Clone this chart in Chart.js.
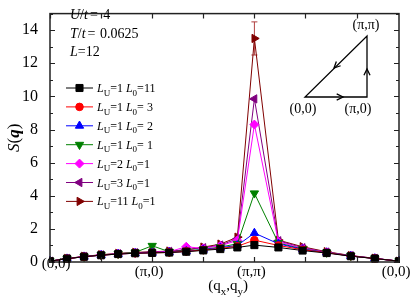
<!DOCTYPE html>
<html>
<head>
<meta charset="utf-8">
<script src="https://cdn.jsdelivr.net/npm/chart.js@4.4.0/dist/chart.umd.min.js"></script>
<style>
  html, body { margin: 0; padding: 0; background: #fff; }
  #wrap { width: 411px; height: 300px; }
</style>
</head>
<body>
<div id="wrap"><canvas id="chart" width="411" height="300"></canvas></div>
<script>
// DATA

// path (0,0) -> (pi,0) -> (pi,pi) -> (0,0), distance along path
const xPos = [0, 1, 2, 3, 4, 5, 6, 7, 8, 9, 10, 11, 12, 13.41, 14.83, 16.24, 17.66, 19.07, 20.49];
const xTickVals = [0, 3, 6, 9, 12, 15, 18];
const xLabelVals = [0, 6, 12, 20.49];
const xLabelText = ['(0,0)', '(\u03c0,0)', '(\u03c0,\u03c0)', '(0,0)'];
const yTickVals = [0, 2, 4, 6, 8, 10, 12, 14];

const sU1L11 = [0.05, 0.2, 0.32, 0.41, 0.48, 0.53, 0.55, 0.57, 0.62, 0.7, 0.78, 0.88, 1.02, 0.88, 0.69, 0.54, 0.35, 0.21, 0.05];
const sU1L3  = [0.05, 0.2, 0.32, 0.41, 0.48, 0.53, 0.55, 0.58, 0.64, 0.72, 0.82, 0.95, 1.32, 1.0, 0.74, 0.56, 0.36, 0.21, 0.05];
const sU1L2  = [0.05, 0.2, 0.32, 0.41, 0.48, 0.53, 0.56, 0.59, 0.65, 0.74, 0.86, 1.0, 1.75, 1.1, 0.76, 0.57, 0.36, 0.21, 0.05];
const sU1L1  = [0.05, 0.2, 0.32, 0.42, 0.49, 0.58, 0.98, 0.62, 0.68, 0.76, 0.9, 1.1, 4.15, 1.15, 0.78, 0.57, 0.37, 0.21, 0.05];
const sU2L1  = [0.05, 0.2, 0.33, 0.42, 0.5, 0.55, 0.58, 0.62, 0.92, 0.82, 0.98, 1.3, 8.3, 1.22, 0.82, 0.58, 0.37, 0.22, 0.05];
const sU3L1  = [0.05, 0.21, 0.33, 0.43, 0.5, 0.56, 0.6, 0.64, 0.75, 0.86, 1.02, 1.4, 9.85, 1.28, 0.86, 0.6, 0.38, 0.22, 0.05];
const sU11L1 = [0.05, 0.21, 0.34, 0.44, 0.52, 0.58, 0.62, 0.66, 0.72, 0.9, 1.08, 1.5, 13.5, 1.32, 0.92, 0.62, 0.39, 0.22, 0.05];
const errU11L1 = [0, 0, 0, 0, 0, 0, 0, 0, 0, 0, 0, 0, 1.0, 0, 0, 0, 0, 0, 0];

const seriesLabels = [
    ['1', '11'], ['1', ' 3'], ['1', ' 2'], ['1', ' 1'], ['2', '1'], ['3', '1'], ['11', '1']
];


// STYLE

const SERIF = '"Liberation Serif", "DejaVu Serif", serif';

const series = [
    { data: sU1L11, color: '#000000', style: 'rect', rot: 0, r: 5 },
    { data: sU1L3, color: '#ff0000', style: 'circle', rot: 0, r: 3.8 },
    { data: sU1L2, color: '#0000ff', style: 'triangle', rot: 0, r: 4.8 },
    { data: sU1L1, color: '#008000', style: 'triangle', rot: 180, r: 4.8 },
    { data: sU2L1, color: '#ff00ff', style: 'rectRot', rot: 0, r: 4.5 },
    { data: sU3L1, color: '#800080', style: 'triangle', rot: -90, r: 4.8 },
    { data: sU11L1, color: '#800000', style: 'triangle', rot: 90, r: 4.8 }
];


// TEXT HELPERS

// parts: [text, kind] kind: 'i' italic, 'n' normal, 's' subscript, 'b' bold italic
const fontFor = (k, size) => {
    if (k === 's') return `${Math.round(size * 0.72)}px ${SERIF}`;
    if (k === 'i') return `italic ${size}px ${SERIF}`;
    if (k === 'b') return `italic bold ${size}px ${SERIF}`;
    return `${size}px ${SERIF}`;
};

const drawRich = (ctx, x, y, parts, size) => {
    let cx = x;
    parts.forEach(([t, k, gap]) => {
        ctx.font = fontFor(k, size);
        ctx.fillText(t, cx, y + (k === 's' ? size * 0.3 : 0));
        cx += ctx.measureText(t).width + (gap || 0);
    });
    return cx - x;
};

const measureRich = (ctx, parts, size) => {
    let w = 0;
    parts.forEach(([t, k, gap]) => {
        ctx.font = fontFor(k, size);
        w += ctx.measureText(t).width + (gap || 0);
    });
    return w;
};

const arrowHead = (ctx, x, y, ang) => {
    const len = 7, spread = 0.45;
    ctx.beginPath();
    ctx.moveTo(x - len * Math.cos(ang - spread), y - len * Math.sin(ang - spread));
    ctx.lineTo(x, y);
    ctx.lineTo(x - len * Math.cos(ang + spread), y - len * Math.sin(ang + spread));
    ctx.stroke();
};


// PLUGINS

const errorBars = {
    id: 'errorBars',
    beforeDatasetsDraw(chart) {
        const { ctx, scales: { x, y } } = chart;
        ctx.save();
        ctx.strokeStyle = '#b04040';
        ctx.lineWidth = 1;
        errU11L1.forEach((e, i) => {
            if (!e) return;
            const px = x.getPixelForValue(xPos[i]);
            const top = y.getPixelForValue(sU11L1[i] + e);
            const bot = y.getPixelForValue(sU11L1[i] - e);
            ctx.beginPath();
            ctx.moveTo(px, top); ctx.lineTo(px, bot);
            ctx.moveTo(px - 3, top); ctx.lineTo(px + 3, top);
            ctx.moveTo(px - 3, bot); ctx.lineTo(px + 3, bot);
            ctx.stroke();
        });
        ctx.restore();
    }
};

const frame = {
    id: 'frame',
    afterDraw(chart) {
        const { ctx, chartArea: a, scales: { x, y } } = chart;
        ctx.save();
        ctx.strokeStyle = '#222';
        ctx.lineWidth = 1.5;
        ctx.strokeRect(a.left, a.top, a.right - a.left, a.bottom - a.top);

        // ticks, pointing inward
        ctx.lineWidth = 1.2;
        ctx.beginPath();
        for (let v = 0; v <= 15; v++) {
            const py = Math.round(y.getPixelForValue(v)) + 0.5;
            const len = v % 2 === 0 ? 5 : 3;
            ctx.moveTo(a.left, py); ctx.lineTo(a.left + len, py);
            ctx.moveTo(a.right, py); ctx.lineTo(a.right - len, py);
        }
        xTickVals.forEach(v => {
            const px = Math.round(x.getPixelForValue(v)) + 0.5;
            ctx.moveTo(px, a.bottom); ctx.lineTo(px, a.bottom - 5);
            ctx.moveTo(px, a.top); ctx.lineTo(px, a.top + 5);
        });
        ctx.stroke();

        // x tick labels
        ctx.fillStyle = '#000';
        ctx.textAlign = 'center';
        ctx.textBaseline = 'middle';
        ctx.font = `15px ${SERIF}`;
        xLabelVals.forEach((v, i) => {
            const px = x.getPixelForValue(v);
            const py = i === 0 ? a.bottom + 2 : a.bottom + 10;
            ctx.fillText(xLabelText[i], i === 0 ? px + 6 : px - 3, py);
        });

        // axis titles
        ctx.textAlign = 'left';
        ctx.textBaseline = 'alphabetic';
        const xt = [['(q', 'n'], ['x', 's'], [',q', 'n'], ['y', 's'], [')', 'n']];
        const xw = measureRich(ctx, xt, 15);
        drawRich(ctx, 228 - xw / 2, 290, xt, 15);

        ctx.save();
        ctx.translate(19, (a.top + a.bottom) / 2);
        ctx.rotate(-Math.PI / 2);
        const yt = [['S', 'i'], ['(', 'n'], ['q', 'b'], [')', 'n']];
        const yw = measureRich(ctx, yt, 17);
        drawRich(ctx, -yw / 2, 0, yt, 17);
        ctx.restore();

        // parameters
        drawRich(ctx, 70, 19, [['U', 'i'], ['/', 'n'], ['t', 'i', 2], ['= ', 'n', 2], ['4', 'n']], 14);
        drawRich(ctx, 70, 38, [['T', 'i'], ['/', 'n'], ['t', 'i', 2], ['= ', 'n', 1], ['0.0625', 'n']], 14);
        drawRich(ctx, 70, 56, [['L', 'i'], ['=12', 'n']], 14);

        // legend
        series.forEach((s, i) => {
            const ly = 88 + i * 18.9;
            ctx.strokeStyle = s.color;
            ctx.fillStyle = s.color;
            ctx.lineWidth = 1;
            ctx.beginPath();
            ctx.moveTo(66, ly); ctx.lineTo(93, ly);
            ctx.stroke();
            Chart.helpers.drawPoint(ctx, { pointStyle: s.style, rotation: s.rot, radius: s.r, borderWidth: 1 }, 79.5, ly);
            ctx.fillStyle = '#000';
            const [lu, l0] = seriesLabels[i];
            drawRich(ctx, 97, ly + 4, [['L', 'i'], ['U', 's'], ['=' + lu + ' ', 'n'], ['L', 'i'], ['0', 's'], ['=' + l0, 'n']], 12);
        });

        // inset path
        const p0 = [305, 97], p1 = [367, 97], p2 = [367, 36];
        ctx.strokeStyle = '#000';
        ctx.lineWidth = 1.3;
        ctx.beginPath();
        ctx.moveTo(...p0); ctx.lineTo(...p1); ctx.lineTo(...p2); ctx.closePath();
        ctx.stroke();
        arrowHead(ctx, 343, 97, 0);
        arrowHead(ctx, 367, 69, -Math.PI / 2);
        arrowHead(ctx, 334, 68, Math.atan2(p0[1] - p2[1], p0[0] - p2[0]));
        ctx.fillStyle = '#000';
        ctx.font = `14px ${SERIF}`;
        ctx.textAlign = 'center';
        ctx.fillText('(\u03c0,\u03c0)', 366, 29);
        ctx.fillText('(0,0)', 303, 113);
        ctx.fillText('(\u03c0,0)', 358, 113);
        ctx.restore();
    }
};


// CHART

const datasets = series.map(s => ({
    data: s.data.map((v, i) => ({ x: xPos[i], y: v })),
    borderColor: s.color,
    backgroundColor: s.color,
    borderWidth: 1,
    pointStyle: s.style,
    pointRotation: s.rot,
    pointRadius: s.r,
    pointBorderWidth: 1,
    tension: 0,
    clip: 1
}));

new Chart(document.getElementById('chart'), {
    type: 'line',
    data: { datasets },
    options: {
        responsive: false,
        animation: false,
        layout: { padding: { left: 0, top: 2, right: 12, bottom: 0 } },
        plugins: { legend: { display: false }, tooltip: { enabled: false } },
        scales: {
            x: {
                type: 'linear',
                min: 0,
                max: 20.49,
                grid: { display: false },
                border: { display: false },
                ticks: { display: false },
                afterFit: s => { s.height = 38; }
            },
            y: {
                min: 0,
                max: 15,
                grid: { display: false },
                border: { display: false },
                afterBuildTicks: s => { s.ticks = yTickVals.map(v => ({ value: v })); },
                ticks: { color: '#000', padding: 4, font: { family: SERIF, size: 16 } },
                afterFit: s => { s.width = 50; }
            }
        }
    },
    plugins: [errorBars, frame]
});
</script>
</body>
</html>
